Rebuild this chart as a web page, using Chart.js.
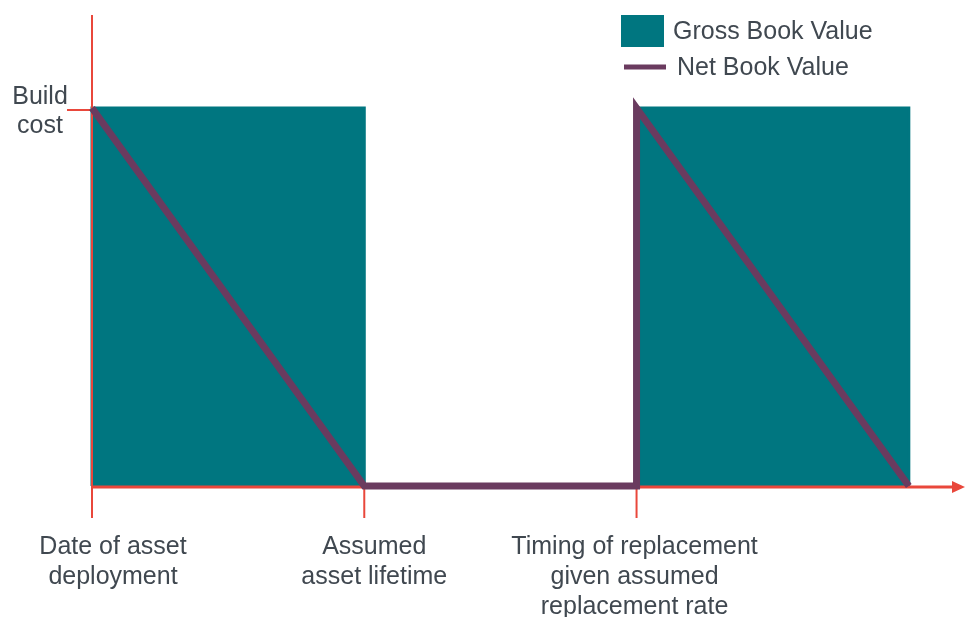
<!DOCTYPE html>
<html>
<head>
<meta charset="utf-8">
<script src="https://cdn.jsdelivr.net/npm/chart.js@4"></script>
<style>
  html, body { margin: 0; padding: 0; background: #ffffff; }
  #wrap { width: 966px; height: 617px; position: relative; }
</style>
</head>
<body>
<div id="wrap"><canvas id="c"></canvas></div>
<script>
// ---- data ----
const buildCost = 1;
const grossPeriods = [[0, 10], [20, 30]];          // asset in service (start, end)
const netTimes  = [0, 10, 20, 20, 30];
const netValues = [1, 0, 0, 1, 0];
const eventTimes  = [0, 10, 20];
const eventLabels = [
  ["Date of asset", "deployment"],
  ["Assumed", "asset lifetime"],
  ["Timing of replacement", "given assumed", "replacement rate"]
];
const yLabel = ["Build", "cost"];
const seriesNames = ["Gross Book Value", "Net Book Value"];

// ---- build library data ----
const grossData = [];
grossPeriods.forEach(function (p, i) {
  grossData.push({x: p[0], y: 0}, {x: p[0], y: buildCost}, {x: p[1], y: buildCost}, {x: p[1], y: 0});
  if (i < grossPeriods.length - 1) grossData.push({x: (p[1] + grossPeriods[i + 1][0]) / 2, y: null});
});
const netData = netTimes.map(function (t, i) { return {x: t, y: netValues[i]}; });

const TEAL = '#007680';
const PLUM = '#6a3b5f';
const RED  = '#e9473b';
const TEXT = '#404850';
const FONT = '25px "Liberation Sans", Arial, sans-serif';

const axesPlugin = {
  id: 'axesPlugin',
  afterDatasetDraw: function (chart, args) {
    if (args.index !== 0) return;
    const ctx = chart.ctx, xs = chart.scales.x, ys = chart.scales.y, ca = chart.chartArea;
    const x0 = xs.getPixelForValue(0), y0 = ys.getPixelForValue(0);
    ctx.save();
    ctx.strokeStyle = RED;
    ctx.fillStyle = RED;
    // y axis
    ctx.lineWidth = 2;
    ctx.beginPath(); ctx.moveTo(x0, ca.top); ctx.lineTo(x0, y0); ctx.stroke();
    // build cost tick
    const yb = ys.getPixelForValue(buildCost);
    ctx.beginPath(); ctx.moveTo(x0 - 25, yb + 2); ctx.lineTo(x0, yb + 2); ctx.stroke();
    // x event ticks
    eventTimes.forEach(function (t) {
      const px = xs.getPixelForValue(t);
      ctx.beginPath(); ctx.moveTo(px, y0); ctx.lineTo(px, y0 + 32); ctx.stroke();
    });
    // x axis with arrow
    ctx.lineWidth = 3;
    ctx.beginPath(); ctx.moveTo(x0, y0 + 1); ctx.lineTo(ca.right - 12, y0 + 1); ctx.stroke();
    ctx.beginPath();
    ctx.moveTo(ca.right - 1, y0 + 1);
    ctx.lineTo(ca.right - 14, y0 - 5);
    ctx.lineTo(ca.right - 14, y0 + 7);
    ctx.closePath(); ctx.fill();
    ctx.restore();
  },
  afterDraw: function (chart) {
    const ctx = chart.ctx, xs = chart.scales.x, ys = chart.scales.y;
    const y0 = ys.getPixelForValue(0);
    ctx.save();
    ctx.font = FONT;
    ctx.fillStyle = TEXT;
    ctx.textAlign = 'center';
    ctx.textBaseline = 'middle';
    // event labels under x axis
    const offs = [21, 10, -2];
    eventTimes.forEach(function (t, i) {
      const cx = xs.getPixelForValue(t) + offs[i];
      eventLabels[i].forEach(function (line, j) {
        ctx.fillText(line, cx, y0 + 61 + j * 30);
      });
    });
    // y label
    const yb = ys.getPixelForValue(buildCost);
    yLabel.forEach(function (line, j) {
      ctx.fillText(line, 40, yb - 11 + j * 29);
    });
    // legend
    ctx.textAlign = 'left';
    const ds = chart.data.datasets;
    ctx.fillStyle = ds[0].backgroundColor;
    ctx.fillRect(621, 15, 43, 32);
    ctx.fillStyle = TEXT;
    ctx.fillText(ds[0].label, 673, 32);
    ctx.strokeStyle = ds[1].borderColor;
    ctx.lineWidth = 5;
    ctx.beginPath(); ctx.moveTo(624, 67); ctx.lineTo(666, 67); ctx.stroke();
    ctx.fillText(ds[1].label, 677, 68);
    ctx.restore();
  }
};

new Chart(document.getElementById('c'), {
  type: 'line',
  data: {
    datasets: [
      {
        label: seriesNames[0],
        data: grossData,
        backgroundColor: TEAL,
        borderColor: TEAL,
        borderWidth: 3,
        fill: 'origin',
        pointRadius: 0,
        spanGaps: false,
        order: 1,
        clip: false
      },
      {
        label: seriesNames[1],
        data: netData,
        borderColor: PLUM,
        backgroundColor: PLUM,
        borderWidth: 7,
        borderJoinStyle: 'miter',
        fill: false,
        pointRadius: 0,
        order: 0,
        clip: false
      }
    ]
  },
  options: {
    responsive: true,
    maintainAspectRatio: false,
    animation: false,
    parsing: true,
    layout: { padding: { left: 92, top: 15, right: 0, bottom: 131 } },
    scales: {
      x: { type: 'linear', min: 0, max: 32.1, display: false },
      y: { type: 'linear', min: 0, max: 1.246, display: false }
    },
    plugins: {
      legend: { display: false },
      tooltip: { enabled: false }
    }
  },
  plugins: [axesPlugin]
});
</script>
</body>
</html>
